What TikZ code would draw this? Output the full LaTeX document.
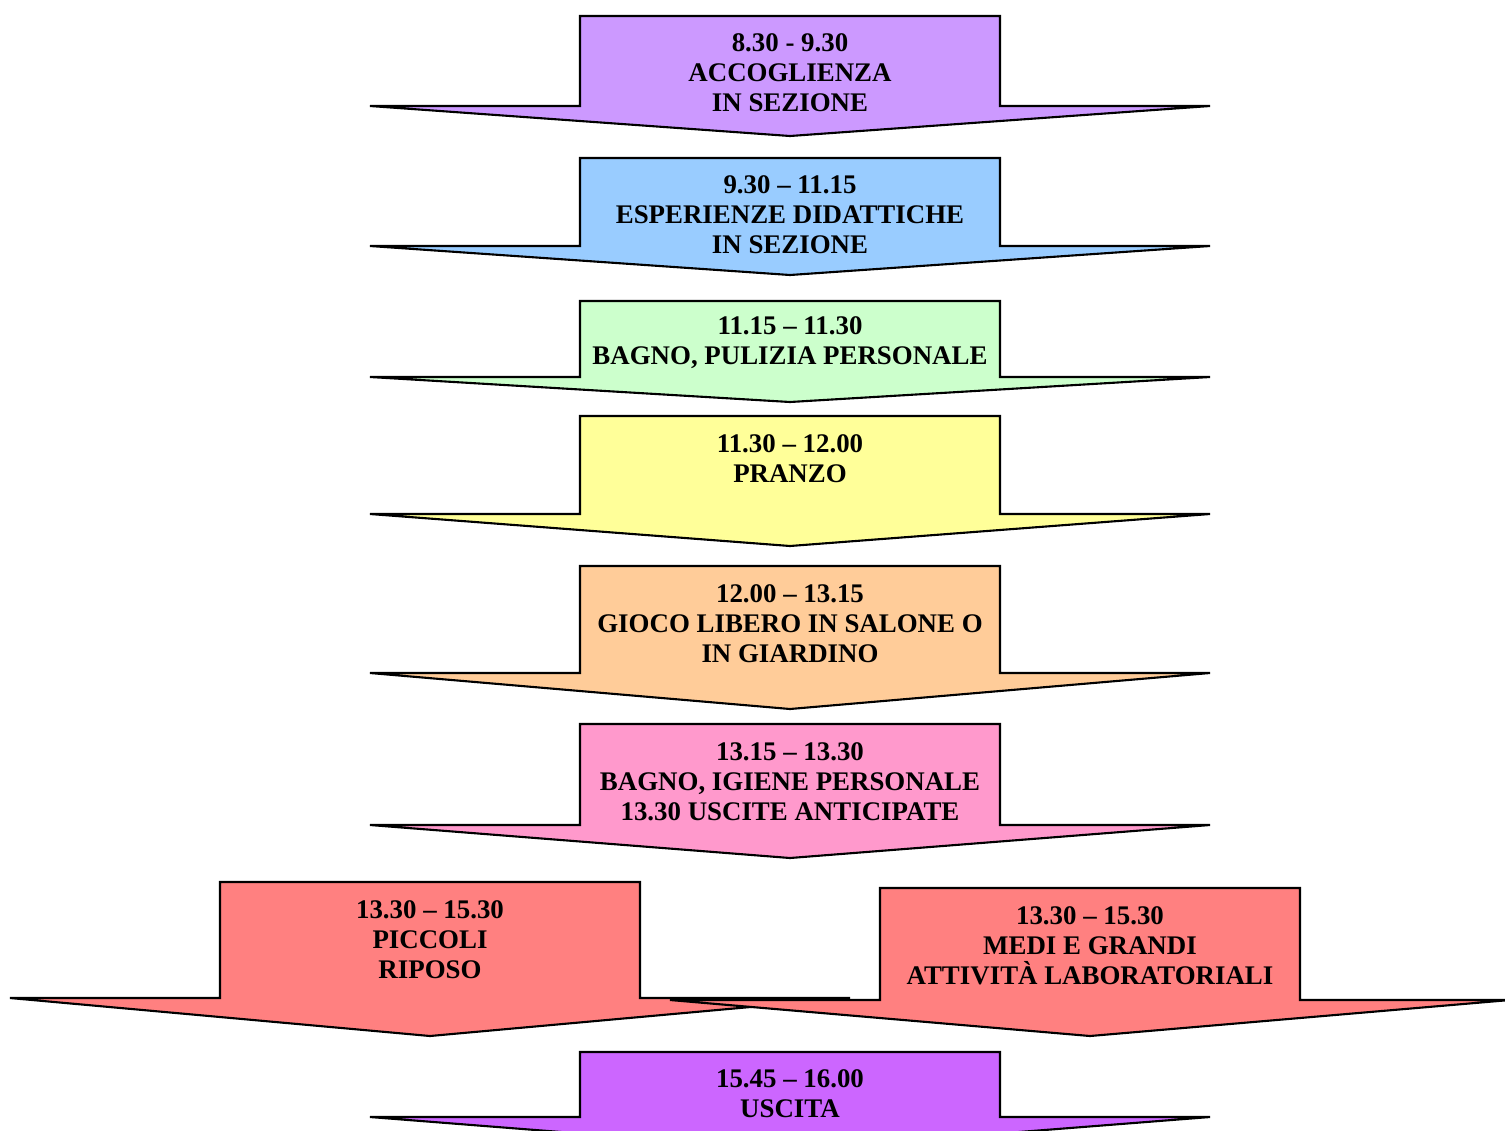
\documentclass[tikz,border=0pt]{standalone}
\usepackage{fontspec}
\setmainfont{Liberation Serif}
\usetikzlibrary{positioning}
\definecolor{lilla}{HTML}{CC99FF}
\definecolor{azzurro}{HTML}{99CCFF}
\definecolor{verdino}{HTML}{CCFFCC}
\definecolor{giallo}{HTML}{FFFF99}
\definecolor{pesca}{HTML}{FFCC99}
\definecolor{rosa}{HTML}{FF99CC}
\definecolor{salmone}{HTML}{FF8080}
\definecolor{viola}{HTML}{CC66FF}
% colour, centre x, top y, base y, tip y
\newcommand{\fascia}[5]{%
    \filldraw[fill=#1,draw=black,line width=1.2pt,line join=miter]
        (#2-210,#3) -- (#2+210,#3) -- (#2+210,#4) -- (#2+420,#4)
        -- (#2,#5) -- (#2-420,#4) -- (#2-210,#4) -- cycle;}

\begin{document}
\begin{tikzpicture}[x=0.02cm,y=-0.02cm,
    orario/.style={align=center,font=\bfseries\fontsize{15.3}{17}\selectfont,inner sep=0pt}]
    \clip (0,0) rectangle (1505,1130);
    \fill[white] (0,0) rectangle (1505,1130);
    \fascia{lilla}{790}{16}{106}{136}
    \node[orario] (accoglienza) at (790,73) {8.30 - 9.30\\ACCOGLIENZA\\IN SEZIONE};
    \fascia{azzurro}{790}{158}{246}{275}
    \node[orario] (esperienze) at (790,215) {9.30 – 11.15\\ESPERIENZE DIDATTICHE\\IN SEZIONE};
    \fascia{verdino}{790}{301}{377}{402}
    \node[orario] (bagno) at (790,343) {11.15 – 11.30\\BAGNO, PULIZIA PERSONALE};
    \fascia{giallo}{790}{416}{514}{546}
    \node[orario] (pranzo) at (790,459) {11.30 – 12.00\\PRANZO};
    \fascia{pesca}{790}{566}{673}{709}
    \node[orario] (gioco) at (790,624) {12.00 – 13.15\\GIOCO LIBERO IN SALONE O\\IN GIARDINO};
    \fascia{rosa}{790}{724}{825}{858}
    \node[orario] (igiene) at (790,782) {13.15 – 13.30\\BAGNO, IGIENE PERSONALE\\13.30 USCITE ANTICIPATE};
    \fascia{salmone}{430}{882}{998}{1036}
    \node[orario] (piccoli) at (430,940) {13.30 – 15.30\\PICCOLI\\RIPOSO};
    \fascia{salmone}{1090}{888}{1000}{1036}
    \node[orario] (grandi) at (1090,946) {13.30 – 15.30\\MEDI E GRANDI\\ATTIVITÀ LABORATORIALI};
    \fascia{viola}{790}{1052}{1117}{1150}
    \node[orario] (uscita) at (790,1094) {15.45 – 16.00\\USCITA};
\end{tikzpicture}
\end{document}
